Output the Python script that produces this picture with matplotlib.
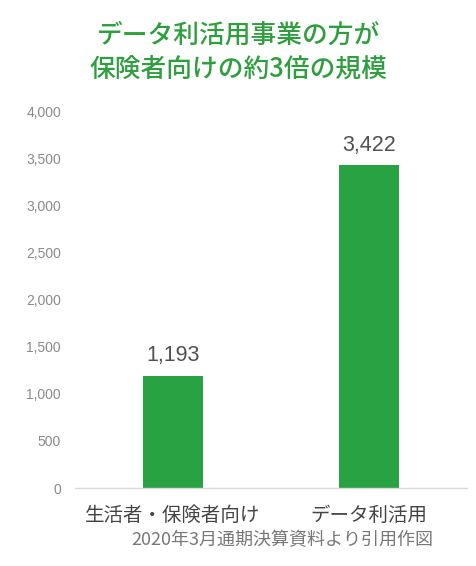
import matplotlib
matplotlib.use("Agg")
import matplotlib.pyplot as plt

categories = ["生活者・保険者向け", "データ利活用"]
values = [1193, 3422]
yticks = [0, 500, 1000, 1500, 2000, 2500, 3000, 3500, 4000]
title_lines = ["データ利活用事業の方が", "保険者向けの約3倍の規模"]
source = "2020年3月通期決算資料より引用作図"

plt.rcParams['font.family'] = ['Noto Sans CJK JP', 'DejaVu Sans']

fig = plt.figure(figsize=(4.77, 5.66), dpi=100)
ax = fig.add_axes([75/477, 1-488/566, (467-75)/477, (488-111)/566])

green = "#28a243"
x = range(len(categories))
bars = ax.bar(x, values, width=0.31, color=green)
ax.set_xlim(-0.5, 1.5)
ax.set_ylim(0, 4000)
ax.set_yticks(yticks)
ax.set_yticklabels([f"{v:,}" for v in yticks], fontfamily='Liberation Sans',
                   fontsize=10, color="#8a8a8a")
ax.set_xticks(list(x))
ax.set_xticklabels(categories, fontsize=14, color="#444444")
ax.tick_params(axis='y', length=0, pad=10)
ax.tick_params(axis='x', length=0, pad=12)
for s in ['top', 'right', 'left']:
    ax.spines[s].set_visible(False)
ax.spines['bottom'].set_color("#d9d9d9")
ax.spines['bottom'].set_linewidth(1)

for xi, v in zip(x, values):
    ax.annotate(f"{v:,}", (xi, v), xytext=(0, 7), textcoords='offset points',
                ha='center', va='bottom', fontsize=15.5, color="#505050",
                fontfamily='Liberation Sans')

fig.text(238/477, 1-35/566, title_lines[0], ha='center', va='center',
         fontsize=18.5, color="#2e9e3e", fontweight='medium')
fig.text(238/477, 1-69/566, title_lines[1], ha='center', va='center',
         fontsize=18.5, color="#2e9e3e", fontweight='medium')
fig.text(282/477, 1-540/566, source, ha='center', va='center',
         fontsize=13, color="#777777")

fig.savefig("out.png", dpi=100, facecolor='white')
